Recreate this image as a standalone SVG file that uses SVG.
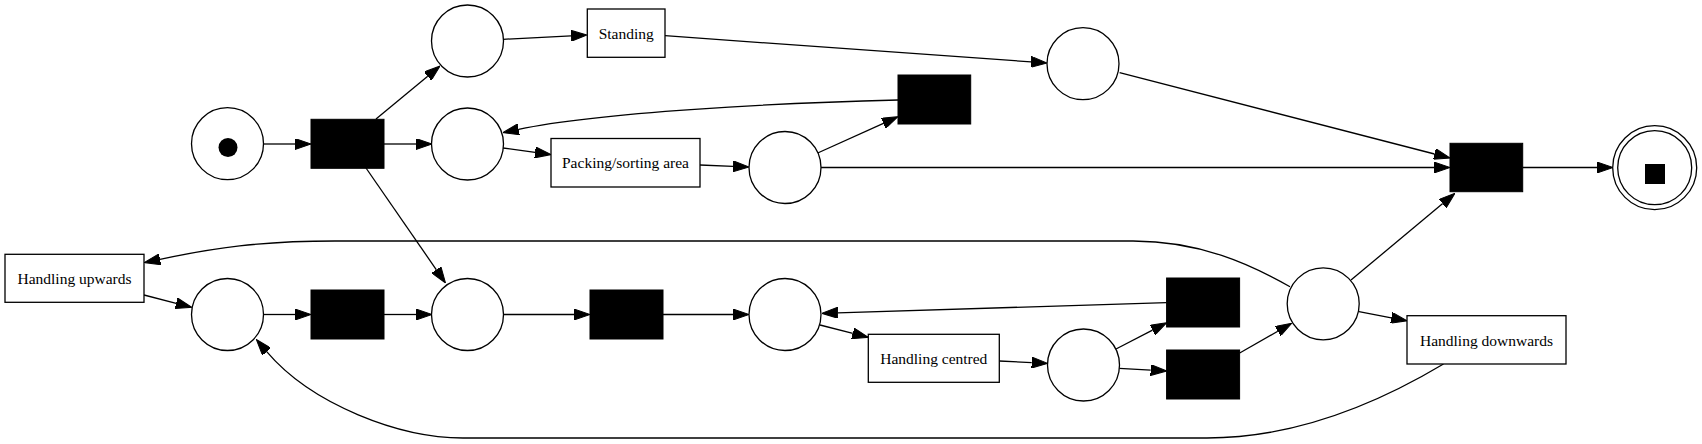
<svg xmlns="http://www.w3.org/2000/svg" width="1702" height="444" viewBox="0 0 1702 444">
<style>
.pl{fill:#fff;stroke:#000;stroke-width:1.3}
.tr{fill:#000;stroke:#000;stroke-width:1}
.lt{fill:#fff;stroke:#000;stroke-width:1.3}
.lb{font-family:"Liberation Serif","Times New Roman",serif;font-size:15.5px;fill:#000;text-anchor:middle}
.e{fill:none;stroke:#000;stroke-width:1.3;marker-end:url(#ah)}
</style>
<defs>
<marker id="ah" viewBox="0 0 16 11" refX="0" refY="5.5" markerWidth="16" markerHeight="11" markerUnits="userSpaceOnUse" orient="auto">
<path d="M0,0 L16,5.5 L0,11 z" fill="#000" stroke="#000" stroke-width="1"/>
</marker>
</defs>
<rect width="1702" height="444" fill="#fff"/>
<g id="connectors">
<path class="e" d="M263.3,144 L295,144"/>
<path class="e" d="M376,119 L427.7,76.2"/>
<path class="e" d="M384,144 L416,144"/>
<path class="e" d="M366,168 L436.4,269.8"/>
<path class="e" d="M503,39.3 L571,35.8"/>
<path class="e" d="M665,35.7 L1031,61.9"/>
<path class="e" d="M503,148 L535.1,152.4"/>
<path class="e" d="M898,100 C780,103 600,112 518.6,129.3"/>
<path class="e" d="M700,165 L733,166.3"/>
<path class="e" d="M817.7,153 L883.4,123.3"/>
<path class="e" d="M821,167.5 L1434,167.5"/>
<path class="e" d="M1119.6,72.7 L1434.5,154"/>
<path class="e" d="M1522.7,167.5 L1597,167.5"/>
<path class="e" d="M1351,280 L1442.7,203.6"/>
<path class="e" d="M1166.6,302.7 L837.7,312.8"/>
<path class="e" d="M820,325 L852.8,333.4"/>
<path class="e" d="M999.3,361 L1031.7,362.6"/>
<path class="e" d="M1116,349 L1152.5,330.1"/>
<path class="e" d="M1119.3,368.3 L1150.7,370.1"/>
<path class="e" d="M1239.7,353 L1277.8,331.2"/>
<path class="e" d="M1359,311.7 L1391.3,317.8"/>
<path class="e" d="M1290,286.7 C1250,264 1200,241 1133,241 L335,241 C260,241 214,248 160,259.3"/>
<path class="e" d="M144,295 L176.2,303.3"/>
<path class="e" d="M263.3,314.5 L295,314.5"/>
<path class="e" d="M384,314.5 L416,314.5"/>
<path class="e" d="M503,314.5 L574,314.5"/>
<path class="e" d="M663,314.5 L733,314.5"/>
<path class="e" d="M1443.5,364 C1400,390 1310,438 1207,438 L463,438 C400,438 312,405 266.7,351.7"/>
</g>
<g id="p_start"><circle class="pl" cx="227.5" cy="143.7" r="36"/><circle cx="228" cy="147.5" r="9.5" fill="#000"/></g>
<g id="t_split"><rect class="tr" x="311" y="119.3" width="73" height="49"/></g>
<g id="p_top"><circle class="pl" cx="467.5" cy="41" r="36"/></g>
<g id="p_mid"><circle class="pl" cx="467.5" cy="144" r="36"/></g>
<g id="p_low"><circle class="pl" cx="467.5" cy="314.5" r="36"/></g>
<g id="t_standing"><rect class="lt" x="587.3" y="9" width="77.7" height="48.3"/><text class="lb" x="626.2" y="39">Standing</text></g>
<g id="t_packing"><rect class="lt" x="551" y="138.5" width="149" height="48.5"/><text class="lb" x="625.5" y="168">Packing/sorting area</text></g>
<g id="p_rtop"><circle class="pl" cx="1083" cy="63.7" r="36"/></g>
<g id="t_skip1"><rect class="tr" x="898" y="75" width="72.7" height="49"/></g>
<g id="p_mr"><circle class="pl" cx="785" cy="167.5" r="36"/></g>
<g id="t_end"><rect class="tr" x="1450" y="143.3" width="72.7" height="48.4"/></g>
<g id="p_end"><circle class="pl" cx="1654.7" cy="167.7" r="42"/><circle class="pl" cx="1654.7" cy="167.7" r="37"/><rect x="1645" y="164" width="20" height="20" fill="#000"/></g>
<g id="t_up"><rect class="lt" x="5" y="254.3" width="139" height="48"/><text class="lb" x="74.5" y="284">Handling upwards</text></g>
<g id="p_ll"><circle class="pl" cx="227.5" cy="314.5" r="36"/></g>
<g id="t_b1"><rect class="tr" x="311" y="290" width="73" height="49"/></g>
<g id="t_b2"><rect class="tr" x="590" y="290" width="73" height="49"/></g>
<g id="p_lc"><circle class="pl" cx="785" cy="314.5" r="36"/></g>
<g id="t_centred"><rect class="lt" x="868.3" y="334.3" width="131" height="48"/><text class="lb" x="933.8" y="364">Handling centred</text></g>
<g id="p_c2"><circle class="pl" cx="1083.5" cy="365" r="36"/></g>
<g id="t_b3"><rect class="tr" x="1166.6" y="278" width="73" height="49"/></g>
<g id="t_b4"><rect class="tr" x="1166.6" y="350" width="73" height="49"/></g>
<g id="p_r"><circle class="pl" cx="1323.2" cy="303.8" r="36"/></g>
<g id="t_down"><rect class="lt" x="1407" y="315.7" width="159" height="48.3"/><text class="lb" x="1486.5" y="345.5">Handling downwards</text></g>
</svg>
